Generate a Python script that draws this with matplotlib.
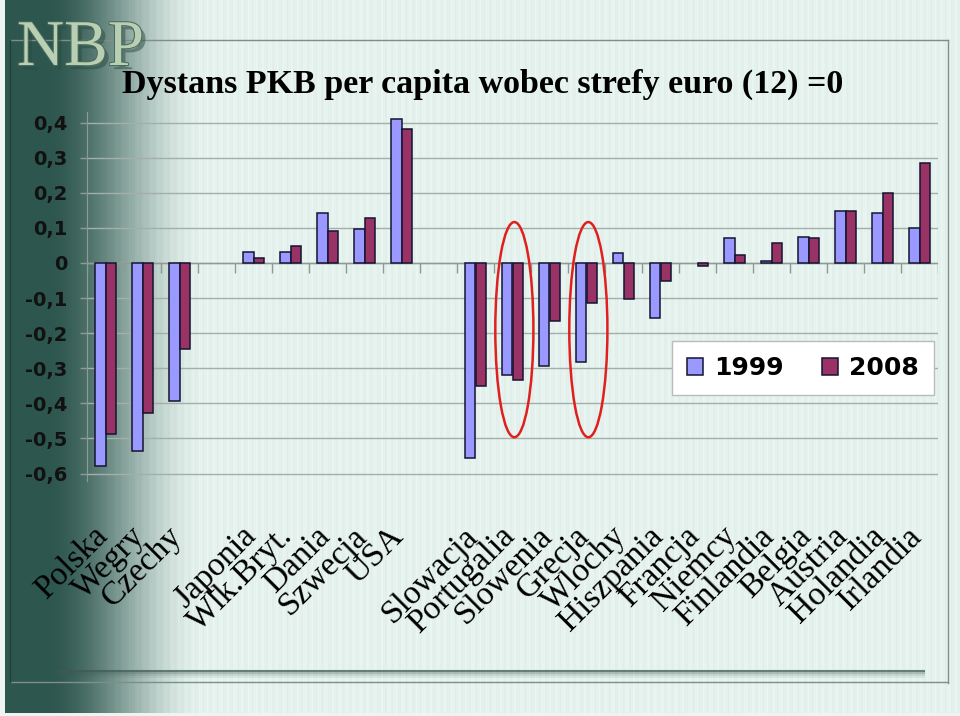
import numpy as np
import matplotlib
matplotlib.use("Agg")
import matplotlib.pyplot as plt
import matplotlib.patheffects as pe
from matplotlib.patches import Ellipse
from matplotlib.transforms import ScaledTranslation

##############################################################################
# Data: GDP per capita gap vs. euro area (12) = 0
countries = ["Polska", "Wegry", "Czechy", "",
             "Japonia", "Wlk.Bryt.", "Dania", "Szwecja", "USA", "",
             "Slowacja", "Portugalia", "Slowenia", "Grecja", "Wlochy",
             "Hiszpania", "Francja", "Niemcy", "Finlandia", "Belgia",
             "Austria", "Holandia", "Irlandia"]
gap_1999 = [-0.578, -0.536, -0.393, np.nan,
            0.030, 0.030, 0.142, 0.096, 0.409, np.nan,
            -0.557, -0.320, -0.294, -0.282, 0.027,
            -0.156, np.nan, 0.070, 0.005, 0.075,
            0.147, 0.143, 0.100]
gap_2008 = [-0.487, -0.428, -0.245, np.nan,
            0.013, 0.048, 0.091, 0.127, 0.381, np.nan,
            -0.350, -0.334, -0.165, -0.113, -0.104,
            -0.052, -0.008, 0.023, 0.058, 0.070,
            0.147, 0.199, 0.286]
series_labels = ["1999", "2008"]
highlighted = ["Portugalia", "Grecja"]

yticks = np.arange(-0.6, 0.41, 0.1)
ytick_labels = ["-0,6", "-0,5", "-0,4", "-0,3", "-0,2", "-0,1",
                "0", "0,1", "0,2", "0,3", "0,4"]

##############################################################################
# Figure and slide background
W, H = 960, 716
fig = plt.figure(figsize=(W / 100, H / 100), dpi=100)

bg = fig.add_axes([0, 0, 1, 1])
bg.set_xlim(0, W)
bg.set_ylim(H, 0)
bg.axis("off")

xs = np.arange(W)
dark = np.array([45, 86, 78]) / 255
light = np.array([229, 242, 237]) / 255
t = np.clip((xs - 45) / 160.0, 0, 1)
t = t * t * (3 - 2 * t)
row = dark[None, :] * (1 - t[:, None]) + light[None, :] * t[:, None]
# fine vertical pinstripes of the slide template
stripes = 0.012 * np.cos(xs * 2 * np.pi / 7.0) + 0.008 * np.cos(xs * 2 * np.pi / 2.9)
row = np.clip(row - stripes[:, None] * t[:, None], 0, 1)
img = np.repeat(row[None, :, :], H, axis=0)
img[:, :5] = [0.93, 0.96, 0.95]
img[713:, :] = [0.93, 0.96, 0.95]
bg.imshow(img, extent=[0, W, H, 0], aspect="auto", interpolation="nearest")

# slide frame
frame_c = "#7d8f88"
bg.plot([10, 948], [40, 40], color=frame_c, lw=1.0)
bg.plot([948, 948], [40, 683], color=frame_c, lw=1.0)
bg.plot([10, 948], [682, 682], color=frame_c, lw=1.0)
bg.plot([10, 10], [40, 682], color="#243f38", lw=1.0)
# soft shadow line near the bottom
for off, a in [(0, 0.75), (2, 0.35), (4, 0.18), (6, 0.08)]:
    bg.plot([57, 925], [671 + off, 671 + off], color="#3f5a52", lw=1.5, alpha=a,
            solid_capstyle="butt")

# NBP logo
bg.text(17, 65, "NBP", fontsize=47, family="Liberation Serif", color="#b8cfb4",
        va="baseline", ha="left",
        path_effects=[pe.withSimplePatchShadow(offset=(3, -3), shadow_rgbFace="#2c4a40", alpha=0.5),
                      pe.withStroke(linewidth=1.5, foreground="#4b6b5c")])

# Title
bg.text(122, 84, "Dystans PKB per capita wobec strefy euro (12) =0",
        fontsize=24.5, fontweight="bold", family="Liberation Serif",
        color="black", ha="left", va="center")

##############################################################################
# Bar chart
ax = fig.add_axes([87 / W, 1 - 480.6 / H, (938 - 87) / W, (480.6 - 112) / H])
ax.patch.set_alpha(0)

x = np.arange(len(countries))
bw = 0.286
b1 = ax.bar(x - bw / 2, gap_1999, bw, color="#9999ff", edgecolor="#141432",
            linewidth=1.1, label=series_labels[0], zorder=3)
b2 = ax.bar(x + bw / 2, gap_2008, bw, color="#993366", edgecolor="#141432",
            linewidth=1.1, label=series_labels[1], zorder=3)

ax.set_xlim(-0.5, len(countries) - 0.5)
ax.set_ylim(-0.62, 0.43)

ax.set_yticks(yticks)
ax.set_yticklabels(ytick_labels, fontsize=14, fontweight="bold",
                   family="DejaVu Sans", color="#111111")
ax.yaxis.grid(True, color="#a4aeaa", linewidth=1.0, zorder=0)
ax.set_axisbelow(True)
ax.tick_params(axis="y", length=5, width=1, color="#8f9a96", pad=9)

ax.set_xticks(x)
ax.set_xticklabels(countries, rotation=45, ha="right", rotation_mode="anchor",
                   fontsize=24, family="Liberation Serif", color="black")
ax.tick_params(axis="x", length=0, pad=29)
shift = ScaledTranslation(-13 / 100, 0, fig.dpi_scale_trans)
for lbl in ax.get_xticklabels():
    lbl.set_transform(lbl.get_transform() + shift)

for side in ["top", "right", "bottom"]:
    ax.spines[side].set_visible(False)
ax.spines["left"].set_color("#8f9a96")

# category axis at zero with boundary tick marks
ax.axhline(0, color="#8f9a96", lw=1.0, zorder=1)
ax.vlines(np.arange(-0.5, len(countries)), -0.028, 0, color="#8f9a96", lw=1.0,
          zorder=1)

# red ellipses around highlighted countries
for name in highlighted:
    i = countries.index(name)
    ax.add_patch(Ellipse((i + 0.05, -0.19), width=1.03, height=0.613,
                         facecolor="none", edgecolor="#e0201e", lw=1.8, zorder=4))

# legend
leg = ax.legend(handles=[b1, b2], ncol=2, loc="upper left",
                bbox_to_anchor=(672 / W, 1 - 341 / H), bbox_transform=fig.transFigure,
                prop={"family": "DejaVu Sans", "weight": "bold", "size": 18},
                handlelength=0.65, handleheight=0.65, handletextpad=0.45,
                columnspacing=1.5, borderpad=0.6, borderaxespad=0,
                fancybox=False, framealpha=1, edgecolor="#b8bcbb")
leg.get_frame().set_linewidth(1.0)

fig.savefig("out.png", dpi=100)
